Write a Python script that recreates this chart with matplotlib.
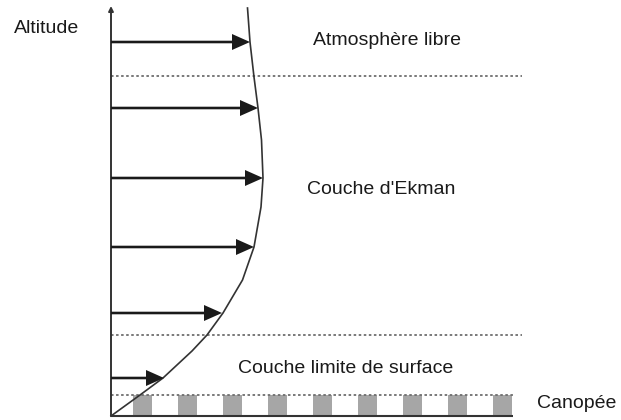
import matplotlib
matplotlib.use("Agg")
import matplotlib.pyplot as plt

plt.rcParams['font.family'] = ['Liberation Sans', 'DejaVu Sans']

# wind profile (speed vs altitude), pixel-like units
profile_speed = [0, 29, 52, 81, 96, 112, 131.5, 143, 150, 152, 150.5, 147, 143, 139, 136.5]
profile_alt = [0, 21, 38, 65, 81, 103, 136, 169, 209, 238, 276, 308, 339, 374, 408]

# wind arrows
arrow_alt = [374, 308, 238, 169, 103, 38]
arrow_speed = [139, 147, 152, 143, 111, 53]

# layer boundaries (dotted lines)
layer_tops = [340, 81]
canopy_top = 21
canopy_x = [22, 67, 112, 157, 202, 247, 292, 337, 382]

labels = ["Atmosphère libre", "Couche d'Ekman", "Couche limite de surface"]
label_x = [276, 270, 235]
label_y = [371, 222, 43]

ink = '#1a1a1a'
dots = '#6e6e6e'

fig = plt.figure(figsize=(6.21, 4.2), dpi=100)
ax = fig.add_axes([0, 0, 1, 1])
ax.set_xlim(-111, 510)
ax.set_ylim(-4, 416)
ax.axis('off')

# canopy blocks
for x in canopy_x:
    ax.bar(x, canopy_top, width=19, bottom=0, align='edge', color='#a6a6a6', lw=0, zorder=1)

# dotted layer lines
for y in layer_tops:
    ax.plot([0, 411], [y, y], color=dots, lw=1.3, ls=(0, (1.4, 1.4)), zorder=2)
ax.plot([0, 402], [canopy_top, canopy_top], color=dots, lw=1.3, ls=(0, (1.4, 1.4)), zorder=2)

# ground line and altitude axis
ax.plot([0, 402], [0, 0], color='#333333', lw=1.5, zorder=3, solid_capstyle='butt')
ax.annotate('', xy=(0, 410), xytext=(0, 0),
            arrowprops=dict(arrowstyle='-|>', color='#333333', lw=1.4,
                            mutation_scale=7, shrinkA=0, shrinkB=0), zorder=3)

# profile curve
ax.plot(profile_speed, profile_alt, color='#333333', lw=1.2, zorder=3,
        solid_joinstyle='round')

# wind arrows
for a, s in zip(arrow_alt, arrow_speed):
    ax.arrow(0, a, s, 0, width=2.6, head_width=16, head_length=18,
             length_includes_head=True, color=ink, lw=0, zorder=4)

ax.text(-97, 383, "Altitude", fontsize=14, color=ink, ha='left', va='baseline')
for t, x, y in zip(labels, label_x, label_y):
    ax.text(x, y, t, fontsize=14, color=ink, ha='center', va='baseline')
ax.text(426, 8, "Canopée", fontsize=14, color=ink, ha='left', va='baseline')

fig.savefig("out.png", dpi=100)
